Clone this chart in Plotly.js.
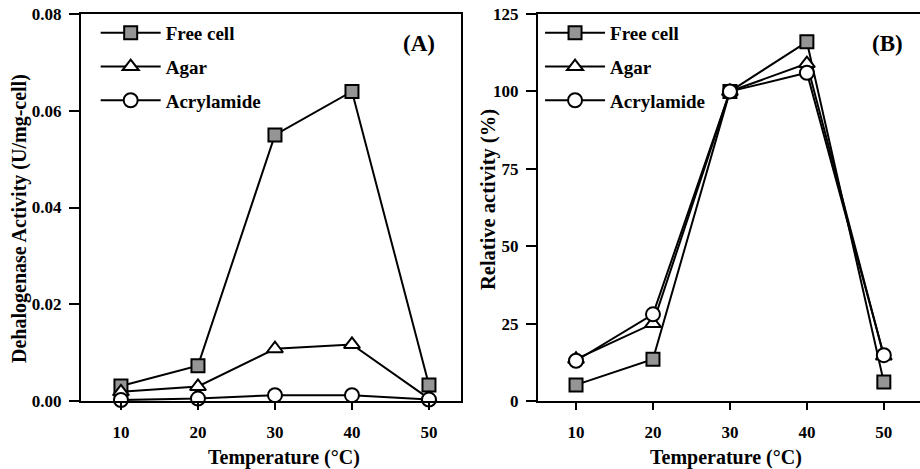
<!DOCTYPE html>
<html><head><meta charset="utf-8">
<script src="https://cdn.plot.ly/plotly-3.0.1.min.js"></script>
<style>html,body{margin:0;padding:0;background:#fff;}#chart{width:920px;height:469px;}</style>
</head><body><div id="chart"></div>
<script>
const temperature = [10, 20, 30, 40, 50];
const seriesNames = ["Free cell", "Agar", "Acrylamide"];
// Panel A: Dehalogenase activity (U/mg-cell)
const activityFree = [0.0031, 0.0073, 0.055, 0.064, 0.0033];
const activityAgar = [0.0019, 0.0030, 0.0108, 0.0117, 0.0005];
const activityAcryl = [0.0002, 0.0005, 0.0012, 0.0012, 0.0003];
// Panel B: Relative activity (%)
const relativeFree = [5.2, 13.5, 100, 116, 6.1];
const relativeAgar = [13.5, 25, 100, 109, 14.5];
const relativeAcryl = [13, 28, 100, 106, 14.8];
const yTicksA = [0, 0.02, 0.04, 0.06, 0.08];
const yTicksB = [0, 25, 50, 75, 100, 125];
const xTicks = [10, 20, 30, 40, 50];

const FONT = "Liberation Serif";
const markerStyles = [
  {symbol: "square", size: 13, color: "#959595", line: {color: "#000", width: 2}},
  {symbol: "triangle-up", size: 14, color: "#fff", line: {color: "#000", width: 2}},
  {symbol: "circle", size: 14, color: "#fff", line: {color: "#000", width: 2}}
];
function mk(y, i, xa, ya, leg) {
  return {
    x: temperature, y: y, xaxis: xa, yaxis: ya, type: "scatter", mode: "lines+markers",
    name: seriesNames[i], legend: leg, legendgroup: leg + i,
    line: {color: "#000", width: 2}, marker: markerStyles[i], cliponaxis: false
  };
}
const data = [
  mk(activityFree, 0, "x", "y", "legend"),
  mk(activityAgar, 1, "x", "y", "legend"),
  mk(activityAcryl, 2, "x", "y", "legend"),
  mk(relativeFree, 0, "x2", "y2", "legend2"),
  mk(relativeAgar, 1, "x2", "y2", "legend2"),
  mk(relativeAcryl, 2, "x2", "y2", "legend2")
];
const tickFont = {family: FONT, size: 17, color: "#000", weight: "bold"};
function xAxis(domain, range, anchor) {
  return {domain: domain, range: range, anchor: anchor, tickvals: xTicks, ticks: "outside",
    ticklen: 7, tickwidth: 2, tickcolor: "#000", showline: true, linecolor: "#000", linewidth: 2,
    mirror: true, showgrid: false, zeroline: false, tickfont: tickFont, ticklabelstandoff: 8};
}
function yAxis(range, ticks, fmt, anchor) {
  return {range: range, anchor: anchor, tickvals: ticks, tickformat: fmt, ticks: "outside",
    ticklen: 10, tickwidth: 2, tickcolor: "#000", showline: true, linecolor: "#000", linewidth: 2,
    mirror: true, showgrid: false, zeroline: false, tickfont: tickFont, ticklabelstandoff: 4};
}
const legendBase = {
  font: {family: FONT, size: 19, color: "#000", weight: "bold"}, bgcolor: "rgba(0,0,0,0)",
  xanchor: "left", yanchor: "top", traceorder: "grouped", tracegroupgap: 6, itemwidth: 60
};
function ann(text, x, y, size, angle) {
  return {text: text, xref: "paper", yref: "paper", x: x, y: y, showarrow: false,
    xanchor: "center", yanchor: "middle", textangle: angle || 0,
    font: {family: FONT, size: size, color: "#000", weight: "bold"}};
}
const T = 14, PH = 387;
function py(pix) { return 1 - (pix - T) / PH; }
const layout = {
  width: 920, height: 469, margin: {l: 0, r: 0, t: 14, b: 68},
  paper_bgcolor: "#fff", plot_bgcolor: "#fff", showlegend: true,
  xaxis: xAxis([81/920, 461/920], [4.81, 54.16], "y"),
  yaxis: yAxis([0, 0.08], yTicksA, ".2f", "x"),
  xaxis2: xAxis([538/920, 1], [5.06, 54.7], "y2"),
  yaxis2: yAxis([0, 125], yTicksB, "d", "x2"),
  legend: Object.assign({x: 0.104, y: 1.0}, legendBase),
  legend2: Object.assign({x: 0.587, y: 1.0}, legendBase),
  annotations: [
    ann("(A)", 419/920, py(43), 23),
    ann("(B)", 887/920, py(43), 23),
    ann("Temperature (°C)", 284/920, py(457), 20),
    ann("Temperature (°C)", 726/920, py(457), 20),
    ann("Dehalogenase Activity (U/mg-cell)", 19/920, py(219), 20, -90),
    ann("Relative activity (%)", 488/920, py(200), 20.5, -90)
  ]
};
Plotly.newPlot("chart", data, layout, {displayModeBar: false, staticPlot: true});
</script></body></html>
